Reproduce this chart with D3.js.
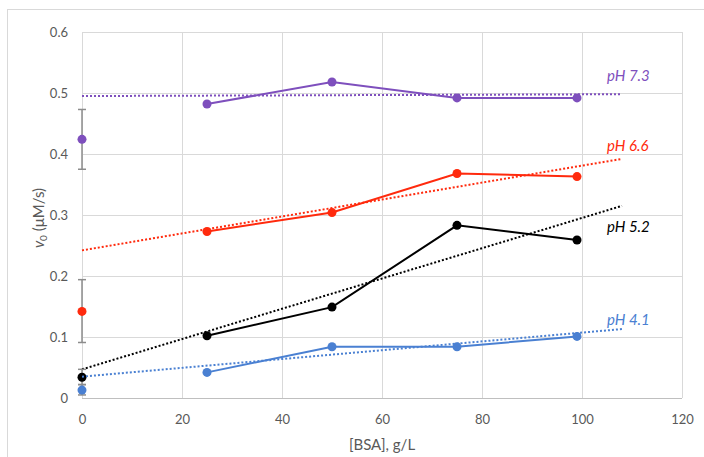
<!DOCTYPE html>
<meta charset="utf-8">
<script src="https://d3js.org/d3.v7.min.js"></script>
<style>
  body { margin: 0; background: #fff; }
  text { font-family: Lato, "Open Sans", sans-serif; }
</style>
<div id="my_dataviz"></div>
<script>
// data
var bsa = [25, 50, 75, 99];
var ph73 = [0.482, 0.518, 0.492, 0.492];
var ph66 = [0.273, 0.304, 0.368, 0.363];
var ph52 = [0.102, 0.149, 0.283, 0.259];
var ph41 = [0.042, 0.084, 0.084, 0.101];

// value at [BSA]=0 with error bar [mean, low, high]
var zero73 = [0.424, 0.375, 0.473];
var zero66 = [0.142, 0.091, 0.194];
var zero52 = [0.034, 0.022, 0.047];
var zero41 = [0.013, 0.005, 0.022];

// dotted trend lines [x0, y0, x1, y1]
var trend73 = [0, 0.495, 108, 0.498];
var trend66 = [0, 0.242, 108, 0.392];
var trend52 = [0, 0.047, 108, 0.315];
var trend41 = [0, 0.035, 108, 0.113];

var labels = ["pH 7.3", "pH 6.6", "pH 5.2", "pH 4.1"];
var labelY = [0.519, 0.405, 0.272, 0.12];
var xTicks = [0, 20, 40, 60, 80, 100, 120];
var yTicks = [0, 0.1, 0.2, 0.3, 0.4, 0.5, 0.6];

var series = [
  {name: labels[0], vals: ph73, zero: zero73, trend: trend73, ly: labelY[0], color: "#7e4fbd"},
  {name: labels[1], vals: ph66, zero: zero66, trend: trend66, ly: labelY[1], color: "#ff2a0d"},
  {name: labels[2], vals: ph52, zero: zero52, trend: trend52, ly: labelY[2], color: "#000000"},
  {name: labels[3], vals: ph41, zero: zero41, trend: trend41, ly: labelY[3], color: "#4a80d2"}
];

var W = 704, H = 457;
var margin = {top: 32, right: 22, bottom: 59, left: 82};
var width = W - margin.left - margin.right,
    height = H - margin.top - margin.bottom;

var root = d3.select("#my_dataviz").append("svg")
    .attr("width", W).attr("height", H);

// outer chart border
root.append("rect")
    .attr("x", 7.5).attr("y", 9.5)
    .attr("width", 720).attr("height", 470)
    .attr("fill", "none").attr("stroke", "#d9d9d9");

var svg = root.append("g")
    .attr("transform", "translate(" + margin.left + "," + margin.top + ")");

var x = d3.scaleLinear().domain([0, 120]).range([0, width]);
var y = d3.scaleLinear().domain([0, 0.6]).range([height, 0]);

// grid
svg.append("g")
    .attr("transform", "translate(0," + height + ")")
    .call(d3.axisBottom(x).tickValues(xTicks).tickSize(-height).tickFormat(""))
    .call(g => g.select(".domain").remove())
    .selectAll(".tick line").attr("stroke", "#d9d9d9");
svg.append("g")
    .call(d3.axisLeft(y).tickValues(yTicks).tickSize(-width).tickFormat(""))
    .call(g => g.select(".domain").remove())
    .selectAll(".tick line").attr("stroke", "#d9d9d9");

// bottom axis line
svg.append("line")
    .attr("x1", 0).attr("x2", width)
    .attr("y1", height + 0.5).attr("y2", height + 0.5)
    .attr("stroke", "#bfbfbf");

// tick labels
svg.append("g")
    .attr("transform", "translate(0," + height + ")")
    .call(d3.axisBottom(x).tickValues(xTicks).tickSize(0).tickPadding(17).tickFormat(d3.format("d")))
    .call(g => g.select(".domain").remove())
    .selectAll("text").attr("fill", "#595959").style("font-size", "13px");
svg.append("g")
    .call(d3.axisLeft(y).tickValues(yTicks).tickSize(0).tickPadding(14).tickFormat(d => d === 0 ? "0" : d3.format(".1f")(d)))
    .call(g => g.select(".domain").remove())
    .selectAll("text").attr("fill", "#595959").style("font-size", "13px");

// axis titles
svg.append("text")
    .attr("x", x(60)).attr("y", height + 52)
    .attr("text-anchor", "middle")
    .attr("fill", "#595959").style("font-size", "15px")
    .text("[BSA], g/L");

var yt = svg.append("text")
    .attr("transform", "translate(" + (-38) + "," + (height / 2 + 3) + ") rotate(-90)")
    .attr("text-anchor", "middle")
    .attr("fill", "#595959").style("font-size", "15px");
yt.append("tspan").style("font-style", "italic").text("v");
yt.append("tspan").attr("dy", 3).style("font-size", "10px").text("0");
yt.append("tspan").attr("dy", -3).text(" (\u03BCM/s)");

var line = d3.line().x(d => x(d[0])).y(d => y(d[1]));

series.forEach(function (s) {
  // trend
  svg.append("line")
      .attr("x1", x(s.trend[0])).attr("y1", y(s.trend[1]))
      .attr("x2", x(s.trend[2])).attr("y2", y(s.trend[3]))
      .attr("stroke", s.color).attr("stroke-width", 2)
      .attr("stroke-dasharray", "2,2");

  // data line
  var pts = bsa.map((b, i) => [b, s.vals[i]]);
  svg.append("path")
      .datum(pts)
      .attr("d", line)
      .attr("fill", "none").attr("stroke", s.color).attr("stroke-width", 2);
  svg.selectAll(null).data(pts).enter().append("circle")
      .attr("cx", d => x(d[0])).attr("cy", d => y(d[1]))
      .attr("r", 4.5).attr("fill", s.color);

  // zero point with error bar
  var eb = svg.append("g").attr("stroke", "#8c8c8c").attr("stroke-width", 1.5);
  eb.append("line").attr("x1", x(0)).attr("x2", x(0))
      .attr("y1", y(s.zero[1])).attr("y2", y(s.zero[2]));
  eb.selectAll(null).data([s.zero[1], s.zero[2]]).enter().append("line")
      .attr("x1", x(0) - 4).attr("x2", x(0) + 4)
      .attr("y1", d => y(d)).attr("y2", d => y(d));
  svg.append("circle")
      .attr("cx", x(0)).attr("cy", y(s.zero[0]))
      .attr("r", 4.5).attr("fill", s.color);

  // series label
  svg.append("text")
      .attr("x", x(105)).attr("y", y(s.ly))
      .attr("fill", s.color)
      .style("font-style", "italic").style("font-size", "15px")
      .text(s.name);
});
</script>
